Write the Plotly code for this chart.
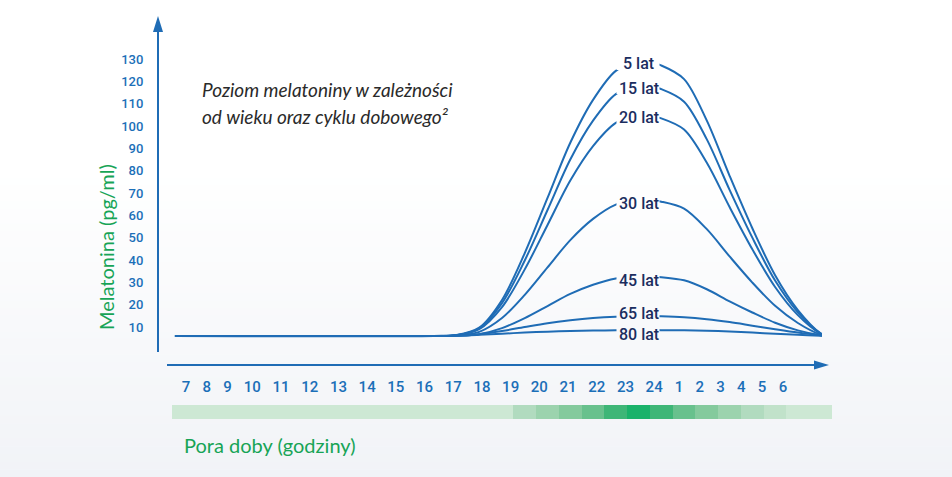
import plotly.graph_objects as go

W, H = 952, 477

# ---------------- data ----------------
hour_labels = ["7", "8", "9", "10", "11", "12", "13", "14", "15", "16", "17", "18",
               "19", "20", "21", "22", "23", "24", "1", "2", "3", "4", "5", "6"]
y_ticks = [10, 20, 30, 40, 50, 60, 70, 80, 90, 100, 110, 120, 130]

# time position along the day band (band cells of one hour each)
t_pos = [0.13, 11.5, 12.5, 13.5, 14.5, 15.5, 16.5, 17.5, 18.5, 19.5, 20.6,
         21.5, 22.5, 23.5, 24.5, 25.5, 26.5, 27.5, 28.5, 28.8]

mel_5  = [6, 6, 6.4, 9.7, 22.1, 43.1, 67.8, 92.5, 111.7, 124.7, 129.6, 127.1, 121.0, 102.4, 77.7, 54.2, 33.2, 17.6, 7.2, 6]
mel_15 = [6, 6, 6.3, 9.4, 20.7, 39.8, 62.4, 85.0, 102.4, 114.3, 118.8, 116.5, 110.9, 94.0, 71.4, 50.0, 30.8, 16.6, 7.1, 6]
mel_20 = [6, 6, 6.3, 9.0, 18.9, 35.8, 55.7, 75.6, 91.0, 101.4, 105.4, 103.4, 98.4, 83.5, 63.7, 44.8, 27.9, 15.3, 7.0, 6]
mel_30 = [6, 6, 6.2, 7.8, 14.0, 24.4, 36.7, 48.9, 58.4, 64.8, 67.3, 66.1, 63.0, 53.8, 41.6, 29.9, 19.5, 11.8, 6.6, 6]
mel_45 = [6, 6, 6.1, 6.8, 9.5, 14.0, 19.4, 24.8, 28.9, 31.7, 32.8, 32.3, 30.9, 26.9, 21.5, 16.5, 11.9, 8.5, 6.3, 6]
mel_65 = [6, 6, 6.1, 6.8, 8.2, 10.0, 11.7, 13.0, 14.0, 14.6, 14.9, 14.8, 14.4, 13.5, 12.2, 10.6, 9.0, 7.5, 6.3, 6]
mel_80 = [6, 6, 6.1, 6.5, 7.0, 7.5, 7.9, 8.2, 8.4, 8.5, 8.6, 8.6, 8.5, 8.3, 8.0, 7.5, 7.0, 6.5, 6.1, 6]

age_labels = ["5 lat", "15 lat", "20 lat", "30 lat", "45 lat", "65 lat", "80 lat"]
series = [mel_5, mel_15, mel_20, mel_30, mel_45, mel_65, mel_80]

# darkness of each hour cell of the day band (0 = lightest)
band_levels = [0, 0, 0, 0, 0, 0, 0, 0, 0, 0, 0, 0, 0, 0, 0,
               1, 2, 3, 4, 5, 6, 5, 4, 3, 2, 1, 0.5, 0, 0]

# ---------------- layout helpers ----------------
BLUE = "#1f6cb5"
TICK_BLUE = "#1b6fb8"
NAVY = "#1b2d5f"
GREEN = "#17a456"
NARROW = "Roboto, sans-serif"
HUMAN = "Lato, Open Sans, sans-serif"

PX0, PXC = 172.0, 22.7586          # band left edge (px) and px per cell
def cell_of(px):
    return (px - PX0) / PXC

def val_of(py):                     # value for a pixel row
    return 10 + (327 - py) / 2.2333

def py_of(v):
    return 327 - (v - 10) * 2.2333

def px_x(px):
    return px / W

def px_y(py):
    return 1 - py / H

def lerp_hex(c1, c2, t):
    a = [int(c1[i:i + 2], 16) for i in (1, 3, 5)]
    b = [int(c2[i:i + 2], 16) for i in (1, 3, 5)]
    return "#" + "".join("%02x" % round(a[k] + (b[k] - a[k]) * t) for k in range(3))

BG_TOP, BG_BOT, BG_START = "#ffffff", "#f1f3f7", 170.0
def bg_at(py):
    t = max(0.0, min(1.0, (py - BG_START) / (H - BG_START)))
    return lerp_hex(BG_TOP, BG_BOT, t)

fig = go.Figure()

# curves
for name, vals in zip(age_labels, series):
    fig.add_trace(go.Scatter(
        x=t_pos, y=vals, mode="lines", name=name,
        line=dict(color=BLUE, width=2, shape="spline", smoothing=0.9),
        hoverinfo="skip", showlegend=False, xaxis="x", yaxis="y"))

# day band as a one-row heatmap
band_scale = [[0.0, "#cde8d4"], [0.5 / 6, "#c1e2ca"], [1 / 6, "#b1dbbf"], [2 / 6, "#9cd3ae"],
              [3 / 6, "#84ca9d"], [4 / 6, "#68c18d"], [5 / 6, "#3eb677"], [1.0, "#1ab26a"]]
fig.add_trace(go.Heatmap(
    z=[band_levels], x=[i + 0.5 for i in range(len(band_levels))], y=[0],
    colorscale=band_scale, zmin=0, zmax=6, showscale=False, hoverinfo="skip",
    xaxis="x2", yaxis="y2", xgap=0, ygap=0))

# tick positions of the hour labels (label spacing follows the label widths)
wid = {1: 20.8, 2: 28.7}
tick_px = [186.0]
for a, b in zip(hour_labels[:-1], hour_labels[1:]):
    tick_px.append(tick_px[-1] + (wid[len(a)] + wid[len(b)]) / 2)
tick_cells = [cell_of(p) for p in tick_px]

shapes = []
# background gradient
N = 40
for i in range(N):
    y0 = BG_START + (H - BG_START) * i / N
    y1 = BG_START + (H - BG_START) * (i + 1) / N + 0.5
    shapes.append(dict(type="rect", xref="paper", yref="paper", x0=0, x1=1,
                       y0=px_y(y1), y1=px_y(y0), line=dict(width=0),
                       fillcolor=bg_at((y0 + y1) / 2), layer="below"))
# arrow heads
shapes.append(dict(type="path", xref="paper", yref="paper", layer="above",
                   path="M %f %f L %f %f L %f %f Z" % (px_x(829), px_y(365), px_x(814), px_y(360.5),
                                                     px_x(814), px_y(369.5)),
                   fillcolor=BLUE, line=dict(width=0)))
shapes.append(dict(type="path", xref="paper", yref="paper", layer="above",
                   path="M %f %f L %f %f L %f %f Z" % (px_x(158), px_y(16), px_x(153), px_y(32),
                                                     px_x(163), px_y(32)),
                   fillcolor=BLUE, line=dict(width=0)))

annotations = []
LABEL_X = cell_of(638.5)
LABEL_SIZE = 16
# label centres: just under each peak, kept apart from the label below
label_py = {}
prev = None
for name, vals in sorted(zip(age_labels, series), key=lambda s: max(s[1])):
    c = py_of(max(vals)) + 4
    if prev is not None:
        c = min(c, prev - 21)
    label_py[name] = c
    prev = c

for name, vals in zip(age_labels, series):
    peak = max(vals)
    py_peak = py_of(peak)
    shapes.append(dict(type="rect", xref="x", yref="y", xsizemode="pixel", ysizemode="pixel",
                       xanchor=LABEL_X, yanchor=peak, x0=-22, x1=21, y0=-10, y1=4,
                       fillcolor=bg_at(py_peak), line=dict(width=0), layer="above"))
    annotations.append(dict(x=LABEL_X, y=peak, xref="x", yref="y", text=name, showarrow=False,
                            yshift=py_peak - label_py[name],
                            font=dict(family=NARROW, size=LABEL_SIZE, color=NAVY, weight=500)))

annotations += [
    dict(x=px_x(200), y=px_y(90), xref="paper", yref="paper", xanchor="left", yanchor="middle",
         text="<i>Poziom melatoniny w zależności</i>", showarrow=False,
         font=dict(family=HUMAN, size=19, color="#2a2a2a")),
    dict(x=px_x(200), y=px_y(117), xref="paper", yref="paper", xanchor="left", yanchor="middle",
         text="<i>od wieku oraz cyklu dobowego²</i>", showarrow=False,
         font=dict(family=HUMAN, size=19, color="#2a2a2a")),
    dict(x=px_x(182), y=px_y(445), xref="paper", yref="paper", xanchor="left", yanchor="middle",
         text="Pora doby (godziny)", showarrow=False,
         font=dict(family=HUMAN, size=20, color=GREEN)),
    dict(x=px_x(106), y=px_y(247), xref="paper", yref="paper", xanchor="center", yanchor="middle",
         text="Melatonina (pg/ml)", showarrow=False, textangle=-90,
         font=dict(family=HUMAN, size=20, color=GREEN)),
]

fig.update_layout(
    width=W, height=H, autosize=False,
    margin=dict(l=0, r=0, t=0, b=0, pad=0),
    paper_bgcolor="#ffffff", plot_bgcolor="rgba(0,0,0,0)",
    showlegend=False,
    shapes=shapes, annotations=annotations,
    xaxis=dict(domain=[px_x(167), px_x(822)], range=[cell_of(167), cell_of(822)],
               anchor="free", position=px_y(365), showline=True, linecolor=BLUE, linewidth=2,
               showgrid=False, zeroline=False, ticks="", tickmode="array",
               tickvals=tick_cells, ticktext=hour_labels, ticklabelstandoff=8,
               tickfont=dict(family=NARROW, size=15, color=TICK_BLUE, weight=500)),
    yaxis=dict(domain=[px_y(352), px_y(25)], range=[val_of(352), val_of(25)],
               anchor="free", position=px_x(158), showline=True, linecolor=BLUE, linewidth=2,
               showgrid=False, zeroline=False, ticks="", tickmode="array",
               tickvals=y_ticks, ticktext=[str(v) for v in y_ticks], ticklabelstandoff=11,
               tickfont=dict(family=NARROW, size=13, color=TICK_BLUE, weight=500)),
    xaxis2=dict(domain=[px_x(172), px_x(832)], range=[0, len(band_levels)], anchor="y2",
                visible=False, fixedrange=True),
    yaxis2=dict(domain=[px_y(419), px_y(405)], range=[-0.5, 0.5], anchor="x2",
                visible=False, fixedrange=True),
)

fig.write_html("out.html", config={"displayModeBar": False})
